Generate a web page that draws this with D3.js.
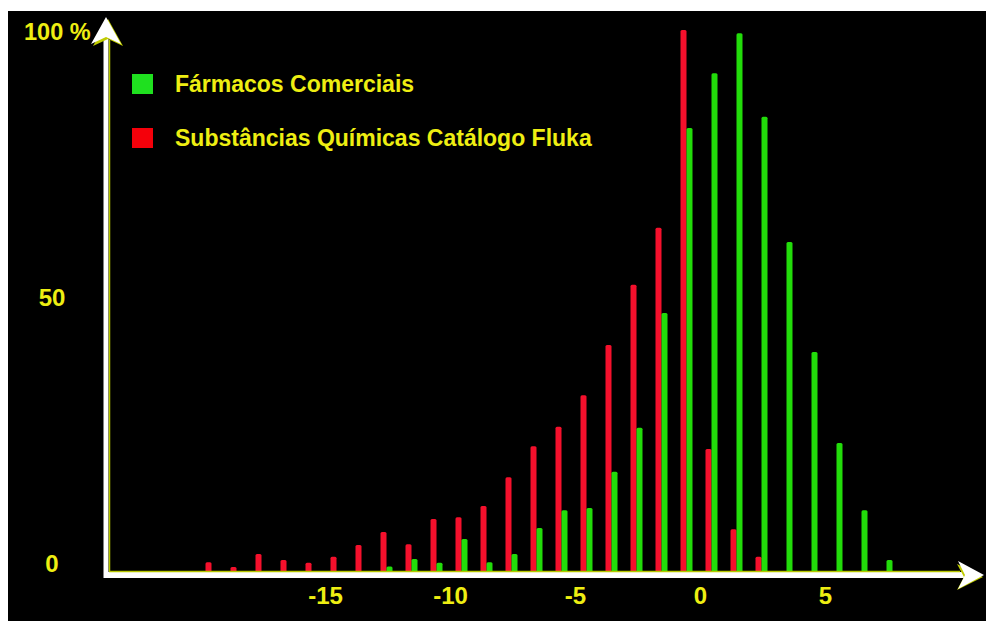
<!DOCTYPE html>
<html><head><meta charset="utf-8">
<script src="https://cdn.jsdelivr.net/npm/d3@7"></script>
<style>html,body{margin:0;padding:0;background:#fff;} svg{display:block}</style>
</head><body>
<svg id="c" width="986" height="621"></svg>
<script>
// bin centres (logP classes)
const bins = [-19.5,-18.5,-17.5,-16.5,-15.5,-14.5,-13.5,-12.5,-11.5,-10.5,-9.5,-8.5,-7.5,-6.5,-5.5,-4.5,-3.5,-2.5,-1.5,-0.5,0.5,1.5,2.5,3.5,4.5,5.5,6.5,7.5];
// Substâncias Químicas Catálogo Fluka (%)
const fluka = [1.8,0.9,3.3,2.2,1.7,2.8,5.0,7.4,5.1,9.8,10.1,12.2,17.5,23.2,26.8,32.6,41.9,53.0,63.5,100,22.7,7.9,2.8,0,0,0,0,0];
// Fármacos Comerciais (%)
const farmacos = [0,0,0,0,0,0,0,1.0,2.4,1.7,6.1,1.8,3.3,8.1,11.4,11.8,18.5,26.6,47.8,81.9,92.0,99.4,84.0,60.9,40.6,23.8,11.4,2.2];
const xTicks = [-15,-10,-5,0,5];
const yTicks = [0,50,100];
const yTickLabels = ["0","50","100 %"];
const seriesNames = ["Fármacos Comerciais","Substâncias Químicas Catálogo Fluka"];
const seriesColors = ["#22dc0a","#f5102c"];

const svg = d3.select("#c");
const FONT = "'Liberation Sans', Arial, sans-serif";
const YEL = "#eeee12";

svg.append("rect").attr("x",8).attr("y",11).attr("width",978).attr("height",610).attr("fill","#000");

const x = d3.scaleLinear().domain([-15,5]).range([325,825]);
const y = d3.scaleLinear().domain([0,100]).range([572,30]);
const yLab = d3.scaleLinear().domain([0,100]).range([563,32]);
const sub = d3.scaleBand().domain(["fluka","farmacos"]).range([-7,5]);

const rows = bins.map((b,i)=>({b, fluka:fluka[i], farmacos:farmacos[i]}));

// bars
const g = svg.append("g");
["fluka","farmacos"].forEach(key=>{
  g.selectAll("rect."+key).data(rows.filter(d=>d[key]>0)).join("rect")
    .attr("class",key)
    .attr("x",d=>x(d.b)+sub(key))
    .attr("width",sub.bandwidth())
    .attr("y",d=>y(d[key]))
    .attr("height",d=>y(0)-y(d[key]))
    .attr("rx",1.5)
    .attr("fill",key==="fluka"?seriesColors[1]:seriesColors[0]);
});

// axes lines
const ax = svg.append("g");
ax.append("line").attr("x1",106).attr("x2",106).attr("y1",578).attr("y2",30)
  .attr("stroke","#fff").attr("stroke-width",5);
ax.append("line").attr("x1",109.5).attr("x2",109.5).attr("y1",571).attr("y2",40)
  .attr("stroke","#b8c800").attr("stroke-width",1.5);
ax.append("line").attr("x1",104).attr("x2",965).attr("y1",575).attr("y2",575)
  .attr("stroke","#fff").attr("stroke-width",6);
ax.append("line").attr("x1",109).attr("x2",960).attr("y1",571.5).attr("y2",571.5)
  .attr("stroke","#b8c800").attr("stroke-width",1.5);
// arrowheads
ax.append("path").attr("d","M108,19 L123,46 L108,39 L93,46 Z").attr("fill","#c0cc00");
ax.append("path").attr("d","M106,17 L121,44 L106,37 L91,44 Z").attr("fill","#fff");
ax.append("path").attr("d","M983,577 L957,590 L964,577 L957,564 Z").attr("fill","#c0cc00");
ax.append("path").attr("d","M984,575 L958,561 L965,575 L958,589 Z").attr("fill","#fff");

// x axis labels
const xa = svg.append("g").attr("transform","translate(0,575)")
  .call(d3.axisBottom(x).tickValues(xTicks).tickSize(0).tickPadding(12).tickFormat(d=>String(d)));
xa.select(".domain").remove();
xa.selectAll("text").attr("fill",YEL).attr("font-family",FONT).attr("font-weight","bold").attr("font-size",24);

// y axis labels
svg.append("g").selectAll("text").data(yTicks).join("text")
  .attr("x",(d,i)=> i===2 ? 24 : 52)
  .attr("text-anchor",(d,i)=> i===2 ? "start" : "middle")
  .attr("y",d=>yLab(d))
  .attr("dy","0.36em")
  .attr("fill",YEL).attr("font-family",FONT).attr("font-weight","bold")
  .attr("font-size",(d,i)=> i===2 ? 23.5 : 24)
  .text((d,i)=>yTickLabels[i]);

// legend
const leg = svg.append("g").selectAll("g").data(seriesNames).join("g")
  .attr("transform",(d,i)=>`translate(132,${74+i*54})`);
leg.append("rect").attr("width",21).attr("height",20).attr("fill",(d,i)=>i===0?"#1fe01f":"#f5000a");
leg.append("text").attr("x",43).attr("y",18).attr("fill",YEL)
  .attr("font-family",FONT).attr("font-weight","bold").attr("font-size",23)
  .text(d=>d);
</script>
</body></html>
